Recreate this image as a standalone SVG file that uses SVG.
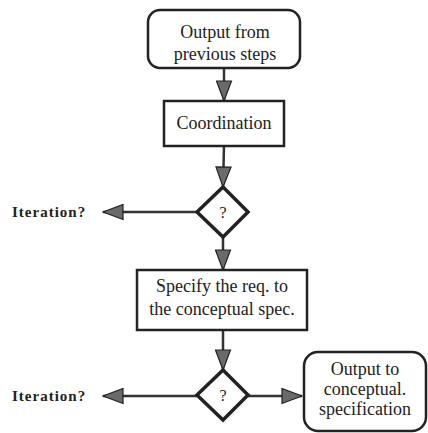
<svg xmlns="http://www.w3.org/2000/svg" width="428" height="433" viewBox="0 0 428 433">
<style>
.box{fill:#fff;stroke:#222;stroke-width:2.5}
.dia{fill:#fff;stroke:#222;stroke-width:3.5;stroke-linejoin:miter}
.t{font-family:"Liberation Serif","Times New Roman",serif;font-size:18px;fill:#222;text-anchor:middle}
.q{font-family:"Liberation Serif","Times New Roman",serif;font-size:16px;fill:#222;text-anchor:middle}
.it{font-family:"Liberation Serif","Times New Roman",serif;font-size:15px;font-weight:bold;letter-spacing:1px;fill:#222}
.c{fill:none;stroke:#333;stroke-width:2.5}
</style>
<defs>
<marker id="ah" markerUnits="userSpaceOnUse" markerWidth="22" markerHeight="17" refX="20" refY="7.5" orient="auto" viewBox="-1 -1 22 17">
<path d="M0,0 L20,7.5 L0,15 Z" fill="#6a6a6a" stroke="#222" stroke-width="1.2"/>
</marker>
</defs>
<rect width="428" height="433" fill="#fff"/>
<g id="connectors">
<line class="c" x1="224" y1="68" x2="224" y2="101" marker-end="url(#ah)"/>
<line class="c" x1="224" y1="146" x2="223" y2="187" marker-end="url(#ah)"/>
<line class="c" x1="197" y1="212" x2="103" y2="212" marker-end="url(#ah)"/>
<line class="c" x1="223" y1="237" x2="223" y2="270" marker-end="url(#ah)"/>
<line class="c" x1="223" y1="330" x2="223" y2="370" marker-end="url(#ah)"/>
<line class="c" x1="197" y1="396" x2="103" y2="396" marker-end="url(#ah)"/>
<line class="c" x1="248" y1="396" x2="302" y2="396" marker-end="url(#ah)"/>
</g>
<g id="start">
<rect class="box" x="148" y="10" width="152" height="58" rx="12"/>
<text class="t" x="225" y="38">Output from</text>
<text class="t" x="225" y="60">previous steps</text>
</g>
<g id="coordination">
<rect class="box" x="164" y="101" width="120" height="45"/>
<text class="t" x="224" y="129">Coordination</text>
</g>
<g id="decision1">
<polygon class="dia" points="223,187 248,212 223,237 197,212"/>
<text class="q" x="223" y="218">?</text>
</g>
<g id="iteration1">
<text class="it" x="12" y="217">Iteration?</text>
</g>
<g id="specify">
<rect class="box" x="137" y="270" width="170" height="60"/>
<text class="t" x="222" y="292">Specify the req. to</text>
<text class="t" x="222" y="315">the conceptual spec.</text>
</g>
<g id="decision2">
<polygon class="dia" points="223,370 248,395 223,420 197,395"/>
<text class="q" x="223" y="401">?</text>
</g>
<g id="iteration2">
<text class="it" x="12" y="401">Iteration?</text>
</g>
<g id="output">
<rect class="box" x="304" y="352" width="122" height="79" rx="14"/>
<text class="t" x="365" y="375">Output to</text>
<text class="t" x="365" y="395">conceptual.</text>
<text class="t" x="365" y="415">specification</text>
</g>
</svg>
